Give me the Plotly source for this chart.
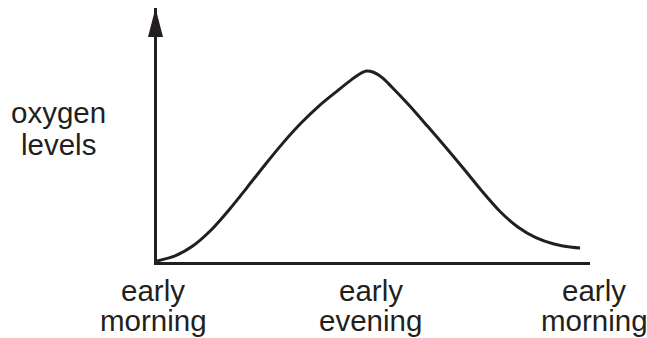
import plotly.graph_objects as go

# Time since early morning (hours) and relative oxygen level
hours = [0, 1, 2, 3, 4, 5, 6, 7, 8, 9, 10, 10.8, 11.3, 11.6, 12.0, 12.5, 13,
         14, 15, 16, 17, 18, 19, 20, 21, 22, 23, 23.45]
oxygen = [0.4, 2.4, 6.4, 12.6, 20.6, 29.4, 38.4, 47.0, 54.8, 61.6, 67.4, 71.9,
          74.3, 75.2, 74.7, 72.5, 69.0, 61.5, 53.4, 45.2, 36.7, 28.0, 20.0,
          13.8, 9.6, 7.1, 5.8, 5.5]

# Time-of-day labels along the horizontal axis
time_positions = [0, 12, 24]
time_labels = [("early", "morning"), ("early", "evening"), ("early", "morning")]
label_shift = [-4, -3, 4]
y_title = ("oxygen", "levels")

INK = "#231f20"
FONT = dict(family="Liberation Sans, Arial, sans-serif", size=29.5, color=INK)

W, H = 647, 338
M = dict(l=157, r=57, t=8, b=76)
plot_h = H - M["t"] - M["b"]
plot_w = W - M["l"] - M["r"]


def paper_y(px):
    return (H - M["b"] - px) / plot_h


def paper_x(px):
    return (px - M["l"]) / plot_w


fig = go.Figure()
fig.add_trace(go.Scatter(
    x=hours, y=oxygen, mode="lines",
    line=dict(color=INK, width=3, shape="spline", smoothing=0.8),
    hoverinfo="skip", showlegend=False,
))

annotations = []
for xpos, (l1, l2), dx in zip(time_positions, time_labels, label_shift):
    annotations.append(dict(x=xpos, xref="x", y=paper_y(290), yref="paper",
                            text=l1, showarrow=False, xanchor="center", xshift=dx,
                            yanchor="middle", font=FONT))
    annotations.append(dict(x=xpos, xref="x", y=paper_y(320), yref="paper",
                            text=l2, showarrow=False, xanchor="center", xshift=dx,
                            yanchor="middle", font=FONT))
annotations.append(dict(x=paper_x(58.5), xref="paper", y=paper_y(112), yref="paper",
                        text=y_title[0], showarrow=False, xanchor="center",
                        yanchor="middle", font=FONT))
annotations.append(dict(x=paper_x(58.5), xref="paper", y=paper_y(145), yref="paper",
                        text=y_title[1], showarrow=False, xanchor="center",
                        yanchor="middle", font=FONT))

# Arrowhead at the top of the vertical axis
arrow = dict(type="path", xref="paper", yref="paper", xsizemode="pixel",
             ysizemode="pixel", xanchor=0, yanchor=1,
             path="M-9,-29 L6,-29 L-1.5,0 Z",
             fillcolor=INK, line=dict(color=INK, width=0))

fig.update_layout(
    width=W, height=H, margin=M,
    paper_bgcolor="white", plot_bgcolor="white",
    xaxis=dict(range=[0, 24], showline=True, linewidth=3, linecolor=INK,
               showgrid=False, zeroline=False, showticklabels=False, ticks=""),
    yaxis=dict(range=[0, 100], showline=True, linewidth=3, linecolor=INK,
               showgrid=False, zeroline=False, showticklabels=False, ticks=""),
    annotations=annotations,
    shapes=[arrow],
)

fig.write_html("out.html")
